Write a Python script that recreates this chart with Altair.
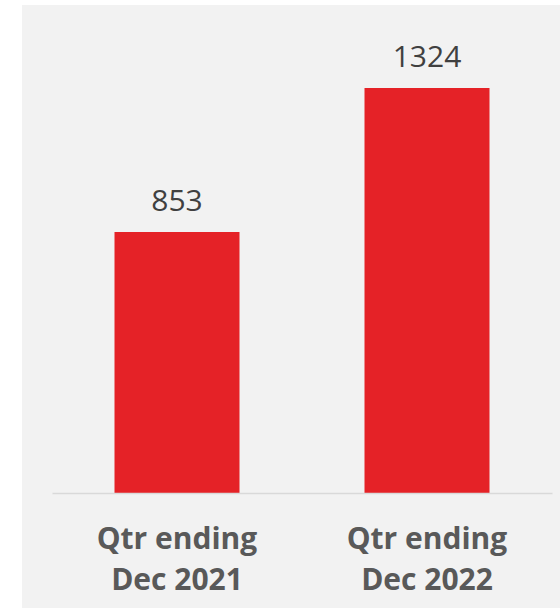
import altair as alt
import pandas as pd

categories = ["Qtr ending|Dec 2021", "Qtr ending|Dec 2022"]
values = [853, 1324]

df = pd.DataFrame({"period": categories, "value": values})

W, H = 500, 473
BG = "#f2f2f2"

bg = alt.Chart(pd.DataFrame({"a": [0]})).mark_rect(color=BG).encode(
    x=alt.value(-30), x2=alt.value(W + 20),
    y=alt.value(-15), y2=alt.value(H + 130),
)

base = alt.Chart(df).encode(
    x=alt.X("period:N", sort=categories,
            scale=alt.Scale(paddingInner=0.5, paddingOuter=0.25),
            axis=alt.Axis(title=None, labelAngle=0, ticks=False, zindex=1,
                          domainColor="#d9d9d9", domainWidth=1.5,
                          labelFont="Open Sans", labelFontWeight="bold",
                          labelFontSize=30, labelColor="#595959",
                          labelLineHeight=41, labelPadding=31,
                          labelExpr="split(datum.label, '|')")),
    y=alt.Y("value:Q", scale=alt.Scale(domain=[0, 1546], nice=False),
            axis=None),
)

bars = base.mark_bar(color="#e52227")
labels = base.mark_text(dy=-21, baseline="alphabetic", font="Open Sans",
                        fontSize=30, color="#404040").encode(text="value:Q")

chart = alt.layer(bg, bars, labels).properties(
    width=W, height=H,
    autosize=alt.AutoSizeParams(type="none"),
    padding={"left": 52, "top": 20, "right": 8, "bottom": 115},
    background="white",
).configure_view(stroke=None)

chart.save("out.html", embed_options={"renderer": "svg", "actions": False})
